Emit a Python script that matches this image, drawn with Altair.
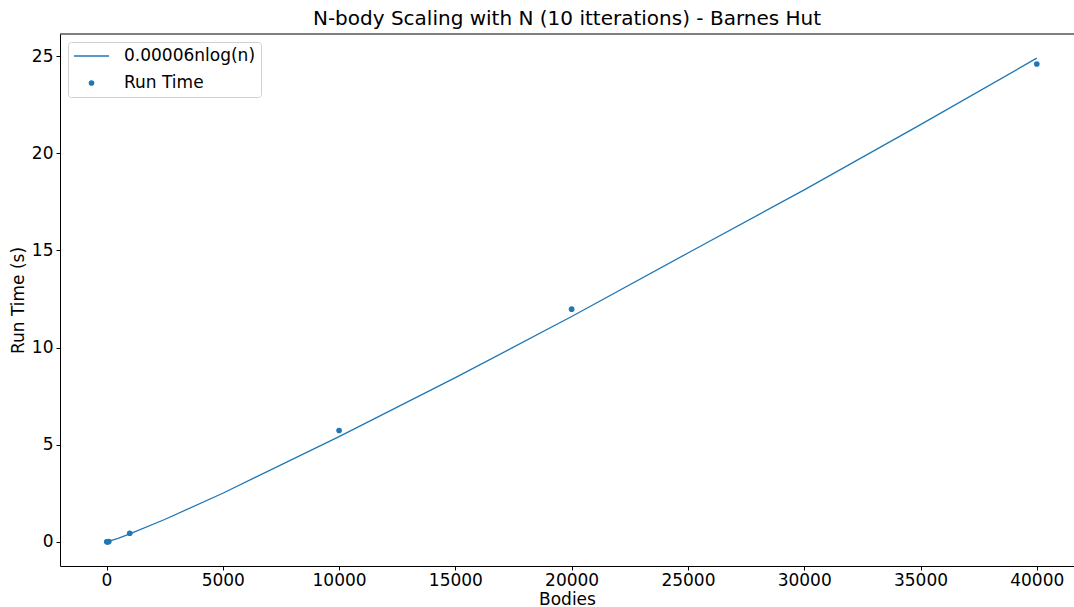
import altair as alt
import pandas as pd

BLUE = "#1f77b4"
FONT = "DejaVu Sans"
FIT_LABEL = "0.00006nlog(n)"
RUN_LABEL = "Run Time"

# measured run times
bodies = [10, 50, 100, 1000, 10000, 20000, 40000]
run_time = [0.0, 0.005, 0.01, 0.44, 5.73, 11.98, 24.6]

# n log(n) reference curve
fit_n = [1, 500, 1000, 2500, 5000, 10000, 15000, 20000, 25000, 30000, 35000, 40000]
fit_t = [0.0, 0.18, 0.41, 1.15, 2.5, 5.42, 8.45, 11.6, 14.87, 18.12, 21.48, 24.9]

x_ticks = [0, 5000, 10000, 15000, 20000, 25000, 30000, 35000, 40000]
y_ticks = [0, 5, 10, 15, 20, 25]

fit_df = pd.DataFrame({"n": fit_n, "t": fit_t, "series": FIT_LABEL})
run_df = pd.DataFrame({"n": bodies, "t": run_time, "series": RUN_LABEL})

x_scale = alt.Scale(domain=[-2000, 41600], nice=False, zero=False)
y_scale = alt.Scale(domain=[-1.245, 26.145], nice=False, zero=False)

x_enc = alt.X("n:Q", scale=x_scale,
              axis=alt.Axis(values=x_ticks, title="Bodies", format="d",
                            labelPadding=2, titlePadding=3))
y_enc = alt.Y("t:Q", scale=y_scale,
              axis=alt.Axis(values=y_ticks, title="Run Time (s)", format="d",
                            labelPadding=3, titlePadding=4))

legend = alt.Legend(
    title=None,
    orient="none",
    legendX=8,
    legendY=8,
    padding=5,
    clipHeight=18,
    rowPadding=9,
    labelOffset=14,
    labelFont=FONT,
    labelFontSize=17,
    labelColor="black",
    strokeColor="#d0d0d0",
    fillColor="rgba(255,255,255,0.8)",
    cornerRadius=3,
    symbolOpacity=1,
)

series_domain = [FIT_LABEL, RUN_LABEL]
# legend keys: a thin bar for the curve, a dot for the measurements
key_shapes = ["M-1,-0.04H1V0.04H-1Z", "circle"]

fit_line = alt.Chart(fit_df).mark_line(color=BLUE, strokeWidth=1.3).encode(
    x=x_enc, y=y_enc
)

run_points = alt.Chart(run_df).mark_point(
    filled=True, fill=BLUE, strokeWidth=0, opacity=1
).encode(
    x=x_enc,
    y=y_enc,
    shape=alt.Shape("series:N",
                    scale=alt.Scale(domain=series_domain, range=key_shapes),
                    legend=legend),
    size=alt.Size("series:O",
                  scale=alt.Scale(domain=series_domain, range=[1225, 32]),
                  legend=legend),
)

# top spine of the frame
top_spine = alt.Chart(pd.DataFrame({"k": [0]})).mark_rule(
    color="black", strokeWidth=1
).encode(x=alt.value(0), x2=alt.value(1014), y=alt.value(0))

chart = alt.layer(fit_line, run_points, top_spine).properties(
    width=1014,
    height=532,
    background="white",
    title=alt.TitleParams(
        "N-body Scaling with N (10 itterations) - Barnes Hut",
        font=FONT, fontSize=20, fontWeight="normal", color="black",
        anchor="middle", offset=5,
    ),
    autosize=alt.AutoSizeParams(type="none"),
    padding={"left": 60, "top": 34, "right": 0, "bottom": 41},
).configure_view(
    stroke=None
).configure_axis(
    grid=False,
    domainColor="black",
    domainWidth=1,
    tickColor="black",
    tickWidth=1,
    tickSize=4,
    labelFont=FONT,
    labelFontSize=17,
    labelColor="black",
    titleFont=FONT,
    titleFontSize=17,
    titleFontWeight="normal",
    titleColor="black",
)

chart.save("out.html", embed_options={"renderer": "svg", "actions": False})
